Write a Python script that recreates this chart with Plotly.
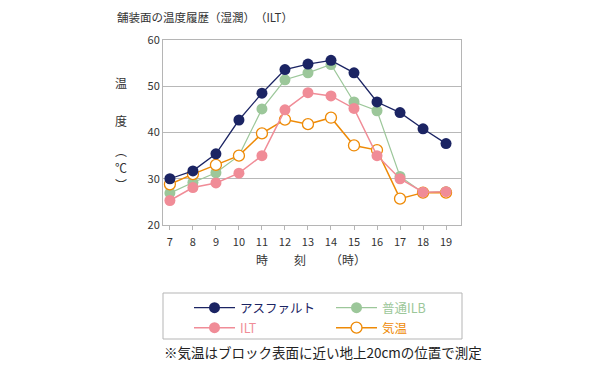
import plotly.graph_objects as go

hours = [7, 8, 9, 10, 11, 12, 13, 14, 15, 16, 17, 18, 19]
asphalt = [30.0, 31.7, 35.4, 42.7, 48.5, 53.6, 54.8, 55.6, 52.9, 46.6, 44.3, 40.8, 37.6]
ilb = [26.9, 29.2, 31.3, 35.0, 45.1, 51.4, 52.9, 54.7, 46.6, 44.7, 30.5, 27.0, 27.2]
ilt = [25.3, 28.1, 29.1, 31.2, 35.0, 44.9, 48.6, 47.9, 45.2, 35.0, 30.0, 27.1, 27.2]
air = [28.8, 31.0, 33.0, 35.0, 39.8, 42.8, 41.8, 43.2, 37.2, 36.2, 25.7, 27.0, 27.0]

names = ["アスファルト", "普通ILB", "ILT", "気温"]
y_ticks = [20, 30, 40, 50, 60]

FONT = "Noto Sans CJK JP"
C_ASP = "#1b2463"
C_ILB = "#9cc79a"
C_ILT = "#f08c97"
C_AIR = "#ee8a06"

# plot area in pixels
PL, PR, PT, PB = 163, 461, 40, 225
PW, PH = PR - PL, PB - PT


def px_x(px):
    return (px - PL) / PW


def px_y(py):
    return (PB - py) / PH


fig = go.Figure()
# drawing order: ILB, air, ILT, asphalt (asphalt on top)
fig.add_trace(go.Scatter(x=hours, y=ilb, name=names[1], mode="lines+markers",
                         line=dict(color=C_ILB, width=1.2),
                         marker=dict(size=11, color=C_ILB),
                         legend="legend2"))
fig.add_trace(go.Scatter(x=hours, y=air, name=names[3], mode="lines+markers",
                         line=dict(color=C_AIR, width=1.5),
                         marker=dict(size=11, color="white", line=dict(color=C_AIR, width=1.3)),
                         legend="legend4"))
fig.add_trace(go.Scatter(x=hours, y=ilt, name=names[2], mode="lines+markers",
                         line=dict(color=C_ILT, width=1.5),
                         marker=dict(size=11, color=C_ILT),
                         legend="legend3"))
fig.add_trace(go.Scatter(x=hours, y=asphalt, name=names[0], mode="lines+markers",
                         line=dict(color=C_ASP, width=1.3),
                         marker=dict(size=11, color=C_ASP),
                         legend="legend"))

axis_common = dict(showline=True, linecolor="#b5b5b5", linewidth=1, mirror=True,
                   tickfont=dict(family=FONT, size=11, color="#333"), zeroline=False)


def leg(px, py, color):
    return dict(orientation="h", xref="container", yref="container",
                x=px / 605, y=1 - py / 365, xanchor="left", yanchor="middle",
                itemwidth=41,
                font=dict(family=FONT, size=12.5, color=color),
                bgcolor="rgba(0,0,0,0)", itemclick=False, itemdoubleclick=False)


fig.update_layout(
    width=605, height=365,
    margin=dict(l=PL, r=605 - PR, t=PT, b=365 - PB, autoexpand=False),
    paper_bgcolor="white", plot_bgcolor="white",
    font=dict(family=FONT, color="#333"),
    xaxis=dict(range=[6.7, 19.65], tickvals=hours, ticktext=[str(h) for h in hours],
               showgrid=False, ticks="outside", ticklen=4, tickcolor="#b5b5b5",
               ticklabelstandoff=3, **axis_common),
    yaxis=dict(range=[20, 60], tickvals=y_ticks, showgrid=True, gridcolor="#b8b8b8",
               gridwidth=1, ticks="", **axis_common),
    legend=leg(189, 308, C_ASP),
    legend2=leg(331, 308, C_ILB),
    legend3=leg(189, 328, C_ILT),
    legend4=leg(331, 328, C_AIR),
    showlegend=True,
)

# legend frame
fig.add_shape(type="rect", xref="paper", yref="paper",
              x0=px_x(163), x1=px_x(462), y0=px_y(339), y1=px_y(293),
              line=dict(color="#b5b5b5", width=1), fillcolor="rgba(0,0,0,0)")


def note(txt, px, py, size=12, ang=0, xa="center", color="#333"):
    return dict(text=txt, xref="paper", yref="paper", x=px_x(px), y=px_y(py),
                xanchor=xa, yanchor="middle", textangle=ang, showarrow=False,
                font=dict(family=FONT, size=size, color=color))


ann = [note("舗装面の温度履歴（湿潤）　（ILT）", 115, 17, size=11.5, xa="left")]
for txt, py in [("温", 82), ("度", 120), ("︵", 150), ("℃", 167), ("︶", 184)]:
    ann.append(note(txt, 121, py, size=12))
for txt, px in [("時", 262), ("刻", 300), ("（時）", 348)]:
    ann.append(note(txt, px, 259))
ann.append(note("※気温はブロック表面に近い地上20cmの位置で測定", 162, 352, size=13.5,
                xa="left", color="#222"))
fig.update_layout(annotations=ann)

fig.write_html("out.html", config={"displayModeBar": False},
               post_script="document.body.style.margin='0';document.body.style.overflow='hidden';")
